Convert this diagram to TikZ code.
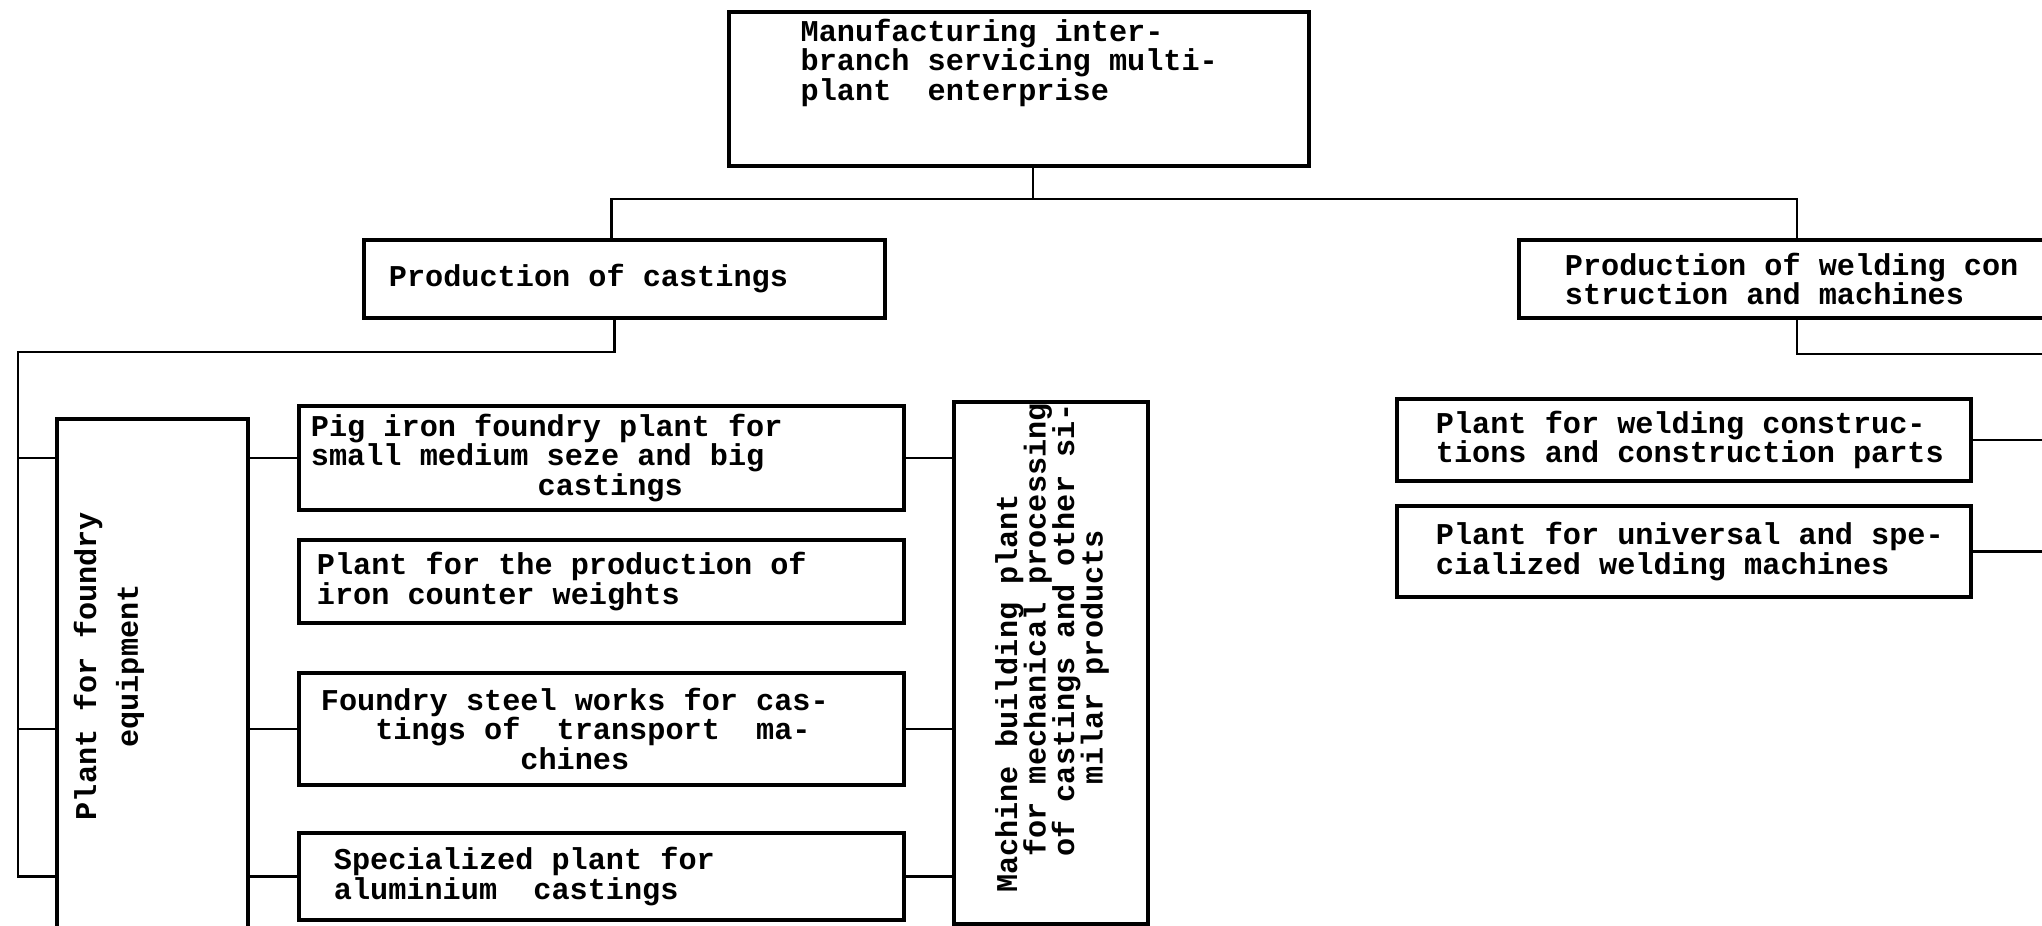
\documentclass[tikz,border=0pt]{standalone}
\usepackage{fontspec}
\setmainfont{Liberation Mono}
\usetikzlibrary{positioning}

\newcommand{\chartfont}[1]{\fontsize{8.6pt}{#1}\selectfont\bfseries\lineskiplimit=-5pt\relax}

\tikzset{
    box/.style={draw, line width=1.1pt, anchor=north west, align=flush left, inner ysep=0pt},
    txt/.style={inner sep=0pt},
    conn/.style={line width=0.8pt}
}

\begin{document}
\begin{tikzpicture}[x=0.1mm, y=-0.1mm, font=\chartfont{8.4pt}]
    \useasboundingbox (0,0) rectangle (2042,925);
    \clip (0,0) rectangle (2042,925);

    % top
    \node [box, minimum width=58mm, minimum height=15.4mm, inner sep=0pt] (top) at (727,10) {};
    \node [txt, anchor=north west, align=left] (toptxt) at (800,18) {Manufacturing inter-\\branch servicing multi-\\plant~ enterprise};

    % second level
    \node [box, minimum height=7.8mm, text width=47.1mm, inner xsep=2.5mm] (cast) at (362,238) {Production of castings};
    \node [box, minimum height=7.8mm, text width=50.8mm, inner xsep=4.6mm] (weld) at (1517,238) {Production of welding con\\struction and machines};

    % foundry side
    \node [box, minimum width=19.1mm, minimum height=52mm, inner sep=0pt] (foundry) at (55,417) {};
    \node [txt, rotate=90, align=center, font=\chartfont{11.9pt}] (foundrytxt) at (109,666) {Plant for foundry\\equipment};

    \node [box, minimum height=10.4mm, text width=58.1mm, inner xsep=1.2mm] (pig) at (297,404) {Pig iron foundry plant for\\small medium seze and big\\\hspace*{7.5em}castings};
    \node [box, minimum height=8.3mm, text width=56.9mm, inner xsep=1.8mm] (cweight) at (297,538) {Plant for the production of\\iron counter weights};
    \node [box, minimum height=11.2mm, text width=56.1mm, inner xsep=2.2mm] (steel) at (297,671) {Foundry steel works for cas-\\\hspace*{1.8em}tings of~ transport~ ma-\\\hspace*{6.6em}chines};
    \node [box, minimum height=8.7mm, text width=53.5mm, inner xsep=3.5mm] (alu) at (297,831) {Specialized plant for\\aluminium~ castings};

    \node [box, minimum width=19.4mm, minimum height=52.2mm, inner sep=0pt] (machine) at (952,400) {};
    \node [txt, rotate=90, align=left, font=\chartfont{8.1pt}] (machinetxt) at (1052,648) {Machine building plant\\\hspace*{1.2em}for mechanical processing\\\hspace*{1.2em}of castings and other si-\\\hspace*{3.6em}milar products};

    % welding side
    \node [box, minimum height=8.2mm, text width=53.6mm, inner xsep=1.9mm] (wcon) at (1395,397) {\hspace*{2mm}Plant for welding construc-\\\hspace*{2mm}tions and construction parts};
    \node [box, minimum height=9.1mm, text width=53.6mm, inner xsep=1.9mm] (wuni) at (1395,504) {\hspace*{2mm}Plant for universal and spe-\\\hspace*{2mm}cialized welding machines};

    % connectors
    \coordinate (fork) at (1033,199);
    \coordinate (bus) at (18,352);
    \coordinate (redge) at (2060,354);
    \draw [conn] (top.south -| fork) -- (fork);
    \draw [conn] ([xshift=-1.3mm]cast.north) |- (fork) -| ([xshift=28mm]weld.north west);
    \draw [conn] ([xshift=-1mm]cast.south) |- (bus) |- (foundry.west |- alu);
    \draw [conn] (bus |- pig) -- (foundry.west |- pig);
    \draw [conn] (bus |- steel) -- (foundry.west |- steel);

    \draw [conn] (foundry.east |- pig) -- (pig.west);
    \draw [conn] (foundry.east |- steel) -- (steel.west);
    \draw [conn] (foundry.east |- alu) -- (alu.west);
    \draw [conn] (pig.east) -- (machine.west |- pig);
    \draw [conn] (steel.east) -- (machine.west |- steel);
    \draw [conn] (alu.east) -- (machine.west |- alu);

    \draw [conn] ([xshift=28mm]weld.south west) |- (redge);
    \draw [conn] (wcon.east) -- (redge |- wcon);
    \draw [conn] (wuni.east) -- (redge |- wuni);
\end{tikzpicture}
\end{document}
